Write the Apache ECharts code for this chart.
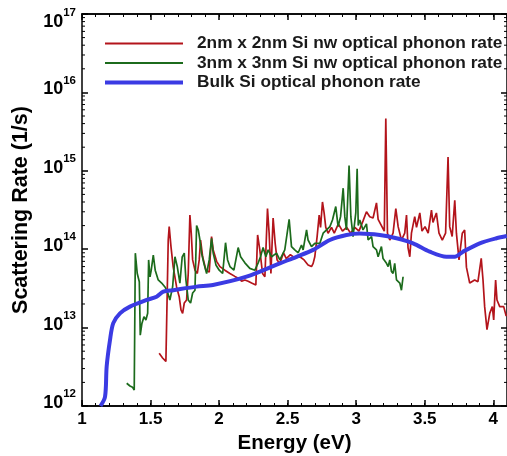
<!DOCTYPE html>
<html>
<head>
<meta charset="utf-8">
<script src="https://cdn.jsdelivr.net/npm/echarts@6/dist/echarts.min.js"></script>
<style>html,body{margin:0;padding:0;background:#fff}#c{width:507px;height:456px}</style>
</head>
<body>
<div id="c"></div>
<script>
// ---- Data ----
const seriesNames = ['2nm x 2nm Si nw optical phonon rate', '3nm x 3nm Si nw optical phonon rate', 'Bulk Si optical phonon rate'];
const xTitle = 'Energy (eV)';
const yTitle = 'Scattering Rate (1/s)';
const xTickLabels = ['1', '1.5', '2', '2.5', '3', '3.5', '4'];

const rate2nm = [
[1.563,4.7e12],[1.588,4.1e12],[1.612,3.7e12],[1.622,3.5e12],[1.629,1.31e14],[1.636,1.94e14],[1.649,1.08e14],[1.665,6.0e13],[1.690,3.3e13],[1.709,2.48e13],[1.722,1.68e13],[1.734,1.52e13],[1.746,2.06e13],[1.763,2.25e13],[1.775,4.9e13],[1.787,2.73e14],[1.797,1.6e14],[1.807,7.3e13],[1.824,5.4e13],[1.841,4.9e13],[1.855,7.3e13],[1.865,1.31e14],[1.880,8.0e13],[1.904,5.4e13],[1.928,5.1e13],[1.945,1.45e14],[1.957,9.8e13],[1.982,7.0e13],[2.006,6.0e13],[2.042,5.4e13],[2.079,4.9e13],[2.115,4.5e13],[2.147,4.2e13],[2.164,3.9e13],[2.188,4.05e13],[2.212,3.9e13],[2.237,3.7e13],[2.268,3.5e13],[2.281,1.52e14],[2.297,9.8e13],[2.317,4.9e13],[2.334,4.45e13],[2.353,3.3e14],[2.365,1.6e14],[2.378,4.9e13],[2.394,2.5e14],[2.409,1.19e14],[2.423,7.3e13],
[2.443,6.6e13],[2.47,9.0e13],[2.49,7.6e13],[2.52,8.5e13],[2.55,7.8e13],[2.589,8.0e13],[2.62,7.3e13],[2.649,6.3e13],[2.674,6.0e13],[2.686,6.6e13],[2.698,8.0e13],[2.715,1.45e14],[2.730,2.73e14],[2.740,1.9e14],[2.754,4.0e14],[2.766,2.9e14],[2.778,1.9e14],[2.795,1.6e14],[2.82,1.9e14],[2.84,1.6e14],[2.87,2.1e14],[2.90,1.7e14],[2.93,1.9e14],[2.96,1.6e14],[2.99,1.9e14],[3.02,1.7e14],[3.05,2.3e14],[3.075,3.0e14],[3.099,2.6e14],[3.123,2.5e14],[3.148,3.9e14],[3.160,2.4e14],[3.184,2.0e14],[3.205,1.7e14],[3.216,4.65e15],[3.228,1.6e14],[3.245,1.31e14],[3.269,1.6e14],[3.289,3.3e14],[3.306,1.94e14],[3.330,1.31e14],[3.354,1.6e14],[3.367,2.73e14],[3.378,1.05e14],[3.391,8.0e13],[3.403,1.6e14],[3.427,2.6e14],[3.44,1.9e14],[3.464,2.9e14],[3.48,1.7e14],[3.502,1.94e14],[3.525,1.6e14],[3.549,3.16e14],[3.56,2.2e14],[3.585,2.9e14],[3.604,1.6e14],[3.628,1.31e14],[3.652,1.6e14],[3.670,1.5e15],[3.682,1.94e14],[3.700,1.45e14],[3.719,4.2e14],[3.731,1.6e14],[3.750,7.3e13],[3.774,1.6e14],[3.791,1.76e14],[3.804,5.9e13],[3.828,3.7e13],[3.864,4.05e13],[3.888,3.85e13],[3.912,7.65e13],[3.925,4.05e13],[3.937,1.85e13],[3.954,9.4e12],[3.974,1.52e13],[3.993,1.85e13],[4.003,1.25e13],[4.017,4.05e13],[4.027,2.25e13],[4.047,1.85e13],[4.076,1.85e13],[4.094,1.4e13]
];

const rate3nm = [
[1.326,1.95e12],[1.350,1.8e12],[1.369,1.73e12],[1.381,1.6e12],[1.389,8.9e13],[1.403,4.9e13],[1.418,3.85e13],[1.425,8.0e12],[1.437,1.13e13],[1.452,1.38e13],[1.466,1.25e13],[1.479,1.52e13],[1.486,7.3e13],[1.496,4.45e13],[1.505,5.4e13],[1.520,8.4e13],[1.534,5.4e13],[1.556,4.05e13],[1.581,3.7e13],[1.605,3.3e13],[1.622,2.9e13],[1.641,2.25e13],[1.661,3.3e13],[1.678,8.0e13],[1.695,6.0e13],[1.714,3.7e13],[1.731,8.0e13],[1.746,8.9e13],[1.758,4.05e13],[1.775,2.25e13],[1.792,2.06e13],[1.807,2.76e13],[1.824,3.0e13],[1.836,2.0e14],[1.848,1.76e14],[1.860,1.31e14],[1.872,8.9e13],[1.889,6.6e13],[1.909,4.9e13],[1.928,7.3e13],[1.945,1.38e14],[1.957,8.9e13],[1.977,6.3e13],[2.001,5.4e13],[2.026,4.9e13],[2.047,1.21e14],[2.062,7.3e13],[2.079,6.0e13],[2.108,5.4e13],[2.139,1.05e14],[2.157,8.0e13],[2.188,6.7e13],[2.224,5.7e13],[2.261,5.4e13],[2.285,6.7e13],[2.302,8.0e13],[2.321,1.05e14],[2.341,8.0e13],[2.358,9.8e13],[2.383,8.0e13],[2.419,8.9e13],[2.443,7.3e13],[2.479,9.8e13],[2.511,2.4e14],[2.528,1.08e14],[2.552,9.8e13],[2.577,9.0e13],
[2.601,1.13e14],[2.613,9.8e13],[2.638,1.76e14],[2.649,1.31e14],[2.674,1.08e14],[2.698,1.19e14],[2.735,1.19e14],[2.759,1.6e14],[2.784,1.76e14],[2.808,1.94e14],[2.827,2.36e14],[2.851,3.5e14],[2.868,1.94e14],[2.886,2.6e14],[2.905,6.0e14],[2.917,2.6e14],[2.929,1.76e14],[2.948,1.17e15],[2.961,2.6e14],[2.977,1.45e14],[2.997,2.9e14],[3.007,1.06e15],[3.015,2.0e14],[3.026,2.36e14],[3.050,1.76e14],[3.075,2.1e14],[3.087,1.31e14],[3.112,1.45e14],[3.123,1.08e14],[3.148,9.8e13],[3.160,8.0e13],[3.184,1.08e14],[3.196,7.6e13],[3.221,6.6e13],[3.233,6.0e13],[3.245,7.3e13],[3.257,5.2e13],[3.269,4.9e13],[3.281,6.6e13],[3.294,4.05e13],[3.318,3.7e13],[3.330,3.0e13],[3.342,4.45e13]
];

const rateBulk = [
[1.135,1.0e12],[1.168,1.31e12],[1.180,3.2e12],[1.204,6.9e12],[1.228,1.14e13],[1.277,1.52e13],[1.350,1.85e13],[1.472,2.25e13],[1.544,2.48e13],[1.593,2.87e13],[1.665,3.0e13],[1.836,3.33e13],[1.955,3.5e13],[2.200,4.46e13],[2.443,6.6e13],[2.565,8.0e13],[2.686,9.8e13],[2.808,1.31e14],[2.929,1.52e14],[3.026,1.59e14],[3.172,1.52e14],[3.294,1.38e14],[3.415,1.19e14],[3.536,9.3e13],[3.658,8.0e13],[3.719,8.0e13],[3.779,9.3e13],[3.901,1.19e14],[4.023,1.38e14],[4.098,1.47e14]
];

const yMinorTicks = [];
for (let k = 12; k < 17; k++) for (let m = 2; m <= 9; m++) yMinorTicks.push([1, m * Math.pow(10, k)]);

// ---- Chart ----
const chart = echarts.init(document.getElementById('c'), null, {renderer: 'canvas'});
const FONT = '"Liberation Sans", Arial, sans-serif';
const AX = '#000';
const T = {fontFamily: FONT, fontWeight: 'bold', color: '#000'};

function baseX(extra) {
  return Object.assign({
    type: 'value', min: 1, max: 4.1, gridIndex: 0,
    axisLine: {show: true, onZero: false, lineStyle: {color: AX, width: 1.5}},
    splitLine: {show: false},
    axisLabel: {show: false}
  }, extra);
}

const option = {
  backgroundColor: '#fff',
  animation: false,
  grid: {left: 82, right: 0, top: 14, bottom: 50, containLabel: false, outerBoundsMode: 'none'},
  legend: {
    data: [
      {name: seriesNames[0], icon: 'path://M0,0H78V2H0Z'},
      {name: seriesNames[1], icon: 'path://M0,0H78V2H0Z'},
      {name: seriesNames[2], icon: 'path://M0,0H78V4H0Z'}
    ],
    orient: 'vertical', left: 100, top: 30,
    itemWidth: 78, itemHeight: 14, itemGap: 2.5,
    textStyle: {fontFamily: FONT, fontSize: 17.3, fontWeight: 'bold', color: '#1a1a1a', padding: [0, 0, 0, 9]}
  },
  xAxis: [
    baseX({position: 'bottom', interval: 0.5,
      axisTick: {show: true, inside: true, length: 6, lineStyle: {color: AX, width: 1.5}},
      axisLabel: {show: true, margin: 5, color: '#000', fontFamily: FONT, fontSize: 17, fontWeight: 'bold',
        showMaxLabel: false,
        formatter: v => { const i = Math.round((v - 1) / 0.5); return Math.abs(v - 1 - i * 0.5) < 1e-6 && i < xTickLabels.length ? xTickLabels[i] : ''; }},
      name: xTitle, nameLocation: 'middle', nameGap: 23,
      nameTextStyle: {fontFamily: FONT, fontSize: 20.5, fontWeight: 'bold', color: '#000'}}),
    baseX({position: 'bottom', interval: 0.1,
      axisTick: {show: true, inside: true, length: 3, lineStyle: {color: AX, width: 1}}}),
    baseX({position: 'top', interval: 0.5,
      axisTick: {show: true, inside: true, length: 6, lineStyle: {color: AX, width: 1.5}}}),
    baseX({position: 'top', interval: 0.1,
      axisTick: {show: true, inside: true, length: 3, lineStyle: {color: AX, width: 1}}})
  ],
  yAxis: [
    {type: 'log', logBase: 10, min: 1e12, max: 1e17, position: 'left',
      axisLine: {show: true, onZero: false, lineStyle: {color: AX, width: 1.5}},
      axisTick: {show: true, inside: true, length: 6, lineStyle: {color: AX, width: 1.5}},
      splitLine: {show: false},
      axisLabel: {show: true, margin: 6, color: '#000',
        formatter: v => {
          const e = Math.round(Math.log10(v));
          return e === 17 ? '{et| }\n{b|10}{s|' + e + '}' : '{b|10}{s|' + e + '}\n{e| }';
        },
        rich: {
          b: Object.assign({fontSize: 18, lineHeight: 24, verticalAlign: 'bottom'}, T),
          s: Object.assign({fontSize: 11.5, lineHeight: 11, verticalAlign: 'top'}, T),
          e: Object.assign({fontSize: 2, lineHeight: 12}, T),
          et: Object.assign({fontSize: 2, lineHeight: 10}, T)
        }},
      name: yTitle, nameLocation: 'middle', nameGap: 45, nameRotate: 90,
      nameTextStyle: {fontFamily: FONT, fontSize: 21.5, fontWeight: 'bold', color: '#000'}},
    {type: 'log', logBase: 10, min: 1e12, max: 1e17, position: 'right',
      axisLine: {show: true, onZero: false, lineStyle: {color: AX, width: 1.5}},
      axisTick: {show: true, inside: true, length: 6, lineStyle: {color: AX, width: 1.5}},
      splitLine: {show: false}, axisLabel: {show: false}}
  ],
  series: [
    {name: seriesNames[0], type: 'line', data: rate2nm, symbol: 'none', xAxisIndex: 0, yAxisIndex: 0,
      lineStyle: {color: '#b3141b', width: 1.7}, itemStyle: {color: '#b3141b'}, z: 3},
    {name: seriesNames[1], type: 'line', data: rate3nm, symbol: 'none', xAxisIndex: 0, yAxisIndex: 0,
      lineStyle: {color: '#1c6b1c', width: 1.7}, itemStyle: {color: '#1c6b1c'}, z: 4},
    {name: seriesNames[2], type: 'line', data: rateBulk, symbol: 'none', smooth: 0.3, xAxisIndex: 0, yAxisIndex: 0,
      lineStyle: {color: '#3b3be3', width: 4}, itemStyle: {color: '#3b3be3'}, z: 5},
    {name: 'yMinor', type: 'custom', data: yMinorTicks, xAxisIndex: 0, yAxisIndex: 0, silent: true, clip: false, z: 6,
      renderItem: (params, api) => {
        const p = api.coord([api.value(0), api.value(1)]);
        const cs = params.coordSys;
        return {type: 'group', children: [
          {type: 'line', shape: {x1: cs.x, y1: p[1], x2: cs.x + 3, y2: p[1]}, style: {stroke: AX, lineWidth: 1}},
          {type: 'line', shape: {x1: cs.x + cs.width - 3, y1: p[1], x2: cs.x + cs.width, y2: p[1]}, style: {stroke: AX, lineWidth: 1}}
        ]};
      }}
  ]
};
chart.setOption(option);
</script>
</body>
</html>
